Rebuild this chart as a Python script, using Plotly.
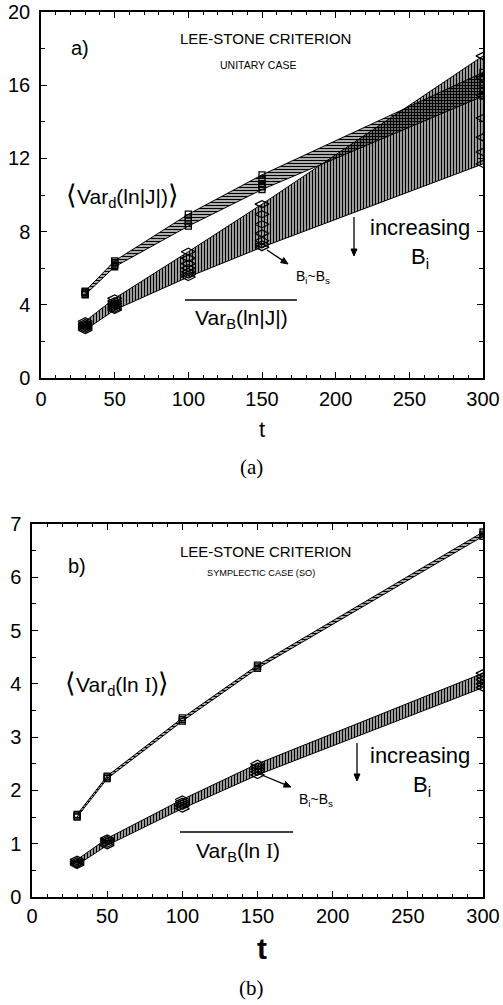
import math
import plotly.graph_objects as go

# ---------------- data ----------------
t = [30, 50, 100, 150, 300]

# (a) unitary case: <Var_d(ln|J|)> curves (squares), one per B_i
vard_unitary = [
    [4.75, 6.40, 8.95, 11.10, 16.70],
    [4.70, 6.32, 8.75, 10.85, 16.35],
    [4.65, 6.24, 8.58, 10.62, 16.00],
    [4.60, 6.16, 8.44, 10.45, 15.70],
    [4.55, 6.08, 8.30, 10.30, 15.40],
]
# (a) unitary case: overline Var_B(ln|J|) curves (diamonds), one per B_i
varb_unitary = [
    [3.10, 4.35, 6.90, 9.50, 17.60],
    [3.00, 4.20, 6.55, 8.95, 16.40],
    [2.92, 4.08, 6.25, 8.40, 15.45],
    [2.85, 3.98, 6.00, 7.90, 14.20],
    [2.78, 3.88, 5.80, 7.50, 13.15],
    [2.70, 3.80, 5.65, 7.30, 12.35],
    [2.62, 3.72, 5.52, 7.15, 11.70],
]

# (b) symplectic case (SO)
vard_so = [
    [1.55, 2.27, 3.36, 4.35, 6.85],
    [1.52, 2.25, 3.33, 4.32, 6.81],
    [1.50, 2.22, 3.30, 4.29, 6.77],
]
varb_so = [
    [0.70, 1.10, 1.83, 2.50, 4.20],
    [0.67, 1.07, 1.79, 2.45, 4.14],
    [0.64, 1.04, 1.75, 2.40, 4.08],
    [0.62, 1.00, 1.71, 2.35, 4.00],
    [0.60, 0.97, 1.66, 2.29, 3.93],
]

W, H = 503, 1005
def px(x):
    return x / W
def py(y):
    return 1 - y / H

SANS = "Liberation Sans, Arial, Helvetica, sans-serif"
SERIF = "Liberation Serif, DejaVu Serif, serif"

fig = go.Figure()

def band(curves, xa, ya, shape, solidity):
    upper = [max(c[i] for c in curves) for i in range(len(t))]
    lower = [min(c[i] for c in curves) for i in range(len(t))]
    fig.add_trace(go.Scatter(x=t, y=lower, mode="lines", xaxis=xa, yaxis=ya,
                             line=dict(color="black", width=1), showlegend=False,
                             hoverinfo="skip"))
    fig.add_trace(go.Scatter(x=t, y=upper, mode="lines", xaxis=xa, yaxis=ya,
                             line=dict(color="black", width=1), showlegend=False,
                             fill="tonexty", fillcolor="rgba(0,0,0,0)",
                             fillpattern=dict(shape=shape, size=3, solidity=solidity,
                                              fgcolor="black", bgcolor="rgba(0,0,0,0)",
                                              fillmode="replace"),
                             hoverinfo="skip"))

def markers(curves, xa, ya, symbol, size):
    xs, ys = [], []
    for c in curves:
        xs += t + [None]
        ys += c + [None]
    fig.add_trace(go.Scatter(x=xs, y=ys, mode="markers", xaxis=xa, yaxis=ya,
                             marker=dict(symbol=symbol, size=size, color="black",
                                         line=dict(color="black", width=1.3)),
                             showlegend=False, hoverinfo="skip"))

# panel (a)
band(varb_unitary, "x", "y", "|", 0.6)
band(vard_unitary, "x", "y", "-", 0.55)
markers(varb_unitary, "x", "y", "diamond-wide-open", 10)
markers(vard_unitary, "x", "y", "square-open", 6)
# panel (b)
band(varb_so, "x2", "y2", "|", 0.6)
band(vard_so, "x2", "y2", "-", 0.55)
markers(varb_so, "x2", "y2", "diamond-wide-open", 10)
markers(vard_so, "x2", "y2", "square-open", 6)

axis_common = dict(showline=True, linecolor="black", linewidth=1.5, mirror="ticks",
                   ticks="inside", ticklen=6, tickwidth=1.2, tickcolor="black",
                   showgrid=False, zeroline=False, automargin=False,
                   tickfont=dict(family=SANS, size=20, color="black"))

fig.update_layout(
    width=W, height=H, autosize=False,
    margin=dict(l=0, r=0, t=0, b=0),
    paper_bgcolor="white", plot_bgcolor="white",
    xaxis=dict(domain=[px(41), px(483)], range=[0, 300], dtick=50, anchor="y",
               minor=dict(dtick=10, ticklen=3, ticks="inside", tickcolor="black"),
               ticklabelstandoff=2, **axis_common),
    yaxis=dict(domain=[py(378), py(12)], range=[0, 20], dtick=4, anchor="x",
               minor=dict(dtick=2, ticklen=4, ticks="inside", tickcolor="black"),
               ticklabelstandoff=5, **axis_common),
    xaxis2=dict(domain=[px(32), px(483)], range=[0, 300], dtick=50, anchor="y2",
                minor=dict(dtick=10, ticklen=3, ticks="inside", tickcolor="black"),
                ticklabelstandoff=0, **axis_common),
    yaxis2=dict(domain=[py(897), py(524)], range=[0, 7], dtick=1, anchor="x2",
                minor=dict(dtick=0.5, ticklen=4, ticks="inside", tickcolor="black"),
                ticklabelstandoff=5, **axis_common),
)

ann = []
def text(x, y, s, size, family=SANS, **kw):
    ann.append(dict(x=px(x), y=py(y), xref="paper", yref="paper", text=s,
                    showarrow=False, xanchor="center", yanchor="middle",
                    font=dict(family=family, size=size, color="black"), **kw))

shapes = []
def arrow(x0, y0, x1, y1, head=7, half=3):
    dx, dy = x1 - x0, y1 - y0
    L = math.hypot(dx, dy)
    ux, uy = dx / L, dy / L
    bx, by = x1 - ux * head, y1 - uy * head
    nx, ny = -uy, ux
    shapes.append(dict(type="line", xref="paper", yref="paper",
                       x0=px(x0), y0=py(y0), x1=px(bx), y1=py(by),
                       line=dict(color="black", width=1.3)))
    p = "M {} {} L {} {} L {} {} Z".format(
        px(x1), py(y1), px(bx + nx * half), py(by + ny * half),
        px(bx - nx * half), py(by - ny * half))
    shapes.append(dict(type="path", xref="paper", yref="paper", path=p,
                       fillcolor="black", line=dict(color="black", width=1)))

BR = "<span style='font-size:27px'>{}</span>"
SI = "<span style='font-family:Liberation Serif'>I</span>"

# ---- panel (a) texts ----
text(80, 48, "a)", 20)
text(265, 39, "LEE-STONE CRITERION", 15)
text(258, 65, "UNITARY CASE", 10.5)
text(122, 196, BR.format("⟨") + "Var<sub>d</sub>(ln|J|)" + BR.format("⟩"), 21)
text(241, 319, "Var<sub>B</sub>(ln|J|)", 21)
text(420, 227, "increasing", 22)
text(420, 258, "B<sub>i</sub>", 22)
text(313, 277, "B<sub>i</sub>~B<sub>s</sub>", 14)
arrow(354, 217, 354, 256)
arrow(267, 250, 288, 264)
text(262, 429, "t", 22)
text(251, 467, "(a)", 21, family=SERIF)

# ---- panel (b) texts ----
text(77, 566, "b)", 20)
text(265, 551, "LEE-STONE CRITERION", 15)
text(261, 573, "SYMPLECTIC CASE (SO)", 9.2)
text(117, 683, BR.format("⟨") + "Var<sub>d</sub>(ln " + SI + ")" + BR.format("⟩"), 21)
text(238, 852, "Var<sub>B</sub>(ln " + SI + ")", 21)
text(420, 755, "increasing", 22)
text(422, 786, "B<sub>i</sub>", 22)
text(316, 800, "B<sub>i</sub>~B<sub>s</sub>", 14)
arrow(357, 743, 357, 781)
arrow(257, 773, 291, 787)
text(262, 948, "<b>t</b>", 30)
text(251, 988, "(b)", 21, family=SERIF)

shapes += [
    dict(type="line", xref="paper", yref="paper", x0=px(185), x1=px(297),
         y0=py(300), y1=py(300), line=dict(color="black", width=1.5)),
    dict(type="line", xref="paper", yref="paper", x0=px(180), x1=px(293),
         y0=py(832), y1=py(832), line=dict(color="black", width=1.5)),
]
fig.update_layout(annotations=ann, shapes=shapes)

fig.write_html("out.html")
